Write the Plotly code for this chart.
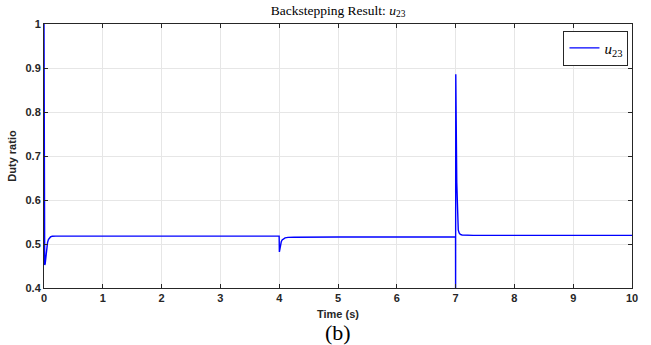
import plotly.graph_objects as go

# Time samples (s) and duty ratio u23
time_s = [0.0, 0.004, 0.012, 0.02, 0.03, 0.045, 0.06, 0.075, 0.09, 0.11, 0.14, 0.2, 1.0, 2.0, 3.0,
          3.999, 4.003, 4.01, 4.02, 4.035, 4.05, 4.07, 4.1, 4.15, 4.25, 5.0, 6.0,
          6.999, 7.0, 7.003, 7.01, 7.02, 7.03, 7.045, 7.06, 7.08, 7.11, 7.16, 7.3, 8.0, 9.0, 10.0]
u23 = [1.0, 0.62, 0.452, 0.455, 0.468, 0.49, 0.503, 0.51, 0.514, 0.516, 0.5175, 0.518, 0.518, 0.518, 0.518,
       0.518, 0.482, 0.488, 0.497, 0.505, 0.509, 0.512, 0.514, 0.515, 0.5155, 0.516, 0.516,
       0.516, 0.37, 0.886, 0.78, 0.64, 0.56, 0.532, 0.525, 0.522, 0.5205, 0.52, 0.5195, 0.5195, 0.5195, 0.5195]

x_ticks = [0, 1, 2, 3, 4, 5, 6, 7, 8, 9, 10]
y_ticks = [0.4, 0.5, 0.6, 0.7, 0.8, 0.9, 1.0]
y_tick_labels = ["0.4", "0.5", "0.6", "0.7", "0.8", "0.9", "1"]

axis_col = "#262626"
tick_font = dict(family="Liberation Sans, Arial, sans-serif", size=11, color=axis_col, weight="bold")

fig = go.Figure()
fig.add_trace(go.Scatter(
    x=time_s, y=u23, mode="lines",
    line=dict(color="#0000FF", width=1.4),
    name="<i>u</i><sub>23</sub>",
))

fig.update_layout(
    width=651, height=345,
    margin=dict(l=42, r=19, t=24, b=57),
    paper_bgcolor="white", plot_bgcolor="white",
    title=dict(text="Backstepping Result: <i>u</i><sub>23</sub>",
               font=dict(family="Liberation Serif, Times New Roman, serif", size=13.5, color="black"),
               x=0.5, xref="paper", xanchor="center", y=0.985, yanchor="top"),
    showlegend=True,
    legend=dict(x=0.994, y=0.975, xanchor="right", yanchor="top",
                bgcolor="white", bordercolor=axis_col, borderwidth=1,
                font=dict(family="Liberation Serif, Times New Roman, serif", size=15, color="black"),
                itemwidth=30, tracegroupgap=0),
    annotations=[dict(text="(b)", x=0.5, y=-0.17, xref="paper", yref="paper",
                      xanchor="center", yanchor="middle", showarrow=False,
                      font=dict(family="Liberation Serif, Times New Roman, serif", size=22, color="black"))],
)

fig.update_xaxes(
    range=[0, 10], tickvals=x_ticks, ticktext=[str(v) for v in x_ticks],
    showgrid=True, gridcolor="#e6e6e6", gridwidth=1, zeroline=False,
    showline=True, linecolor=axis_col, linewidth=1, mirror="ticks",
    ticks="inside", ticklen=4, tickcolor=axis_col, tickfont=tick_font,
    title=dict(text="Time (s)", font=tick_font, standoff=7),
)
fig.update_yaxes(
    range=[0.4, 1.0], tickvals=y_ticks, ticktext=y_tick_labels,
    showgrid=True, gridcolor="#e6e6e6", gridwidth=1, zeroline=False,
    showline=True, linecolor=axis_col, linewidth=1, mirror="ticks",
    ticks="inside", ticklen=4, tickcolor=axis_col, tickfont=tick_font,
    title=dict(text="Duty ratio", font=tick_font, standoff=6),
)

fig.write_html("out.html", config={"displayModeBar": False},
               post_script="document.body.style.margin='0';document.body.style.padding='0';")
